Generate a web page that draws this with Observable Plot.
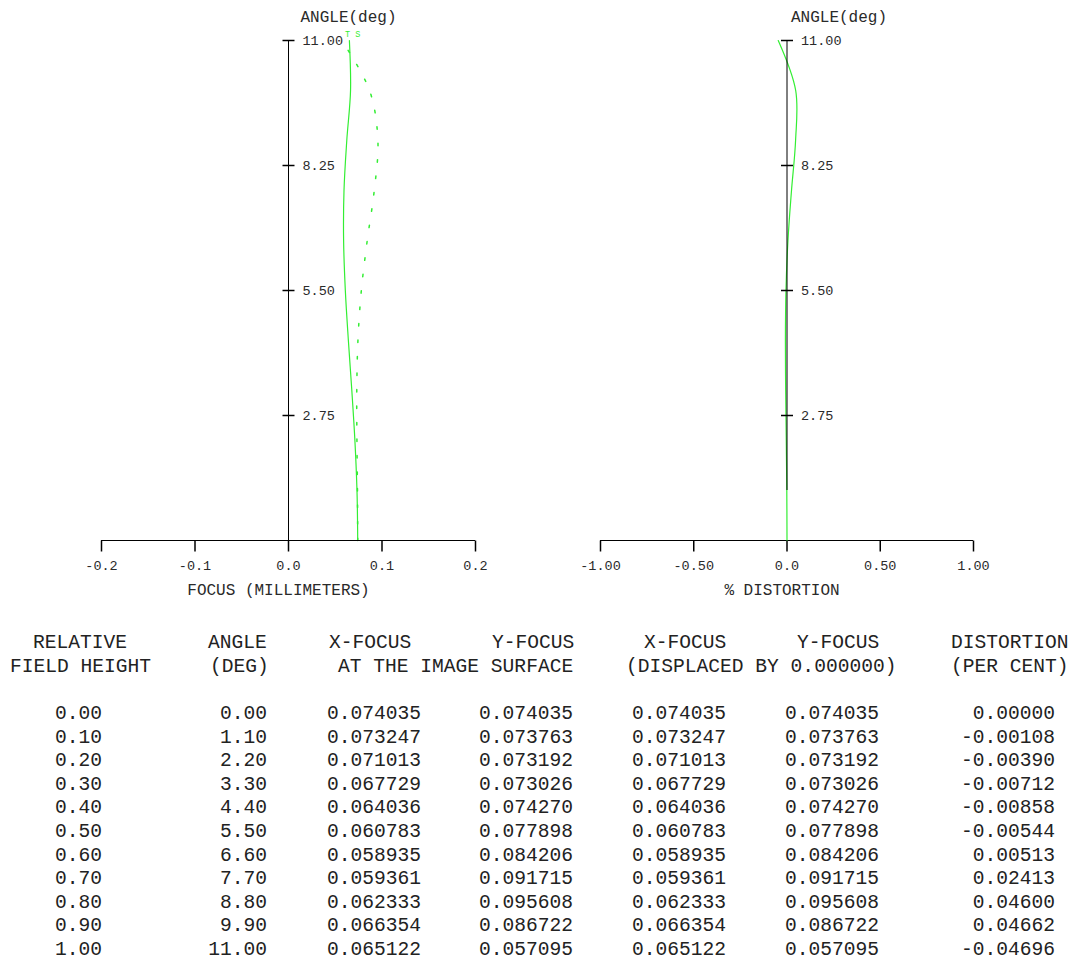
<!DOCTYPE html>
<html><head><meta charset="utf-8">
<script src="https://cdn.jsdelivr.net/npm/d3@7"></script>
<script src="https://cdn.jsdelivr.net/npm/@observablehq/plot@0.6"></script>
<style>
html,body{margin:0;padding:0;background:#fff;}
#wrap{position:relative;width:1073px;height:961px;overflow:hidden;background:#fff;}
#p1{position:absolute;left:0;top:0;}
#p2{position:absolute;left:540px;top:0;}
#tbl{position:absolute;left:0;top:610px;}
svg{display:block;}
</style></head><body>
<div id="wrap"><div id="p1"></div><div id="p2"></div><div id="tbl"></div></div>
<script>
// ---- data (from the printout) ----
const relField   = [0.00, 0.10, 0.20, 0.30, 0.40, 0.50, 0.60, 0.70, 0.80, 0.90, 1.00];
const angles     = [0.00, 1.10, 2.20, 3.30, 4.40, 5.50, 6.60, 7.70, 8.80, 9.90, 11.00];
const xFocus     = [0.074035, 0.073247, 0.071013, 0.067729, 0.064036, 0.060783, 0.058935, 0.059361, 0.062333, 0.066354, 0.065122];
const yFocus     = [0.074035, 0.073763, 0.073192, 0.073026, 0.074270, 0.077898, 0.084206, 0.091715, 0.095608, 0.086722, 0.057095];
const xFocusDisp = [0.074035, 0.073247, 0.071013, 0.067729, 0.064036, 0.060783, 0.058935, 0.059361, 0.062333, 0.066354, 0.065122];
const yFocusDisp = [0.074035, 0.073763, 0.073192, 0.073026, 0.074270, 0.077898, 0.084206, 0.091715, 0.095608, 0.086722, 0.057095];
const distortion = [0.00000, -0.00108, -0.00390, -0.00712, -0.00858, -0.00544, 0.00513, 0.02413, 0.04600, 0.04662, -0.04696];

const focusTicks      = [-0.2, -0.1, 0, 0.1, 0.2];
const focusTickLabels = ["-0.2", "-0.1", "0.0", "0.1", "0.2"];
const distTicks       = [-1, -0.5, 0, 0.5, 1];
const distTickLabels  = ["-1.00", "-0.50", "0.0", "0.50", "1.00"];
const angleTicks      = [2.75, 5.50, 8.25, 11.00];
const angleTickLabels = ["2.75", "5.50", "8.25", "11.00"];
const curveLabels     = ["T", "S"];

const headerRow1 = [["RELATIVE", 33], ["ANGLE", 208], ["X-FOCUS", 329], ["Y-FOCUS", 492], ["X-FOCUS", 644], ["Y-FOCUS", 797], ["DISTORTION", 951]];
const headerRow2 = [["FIELD HEIGHT", 10], ["(DEG)", 210], ["AT THE IMAGE SURFACE", 338], ["(DISPLACED BY 0.000000)", 626], ["(PER CENT)", 951]];

// ---- styles ----
const FONT = "'Liberation Mono', 'DejaVu Sans Mono', monospace";
const GREEN = "#33ee33";
const INK = "#2a2a2a";

const hline = {draw(ctx, size) { const r = Math.sqrt(size / Math.PI); ctx.moveTo(-r, 0); ctx.lineTo(r, 0); }};
const vdown = {draw(ctx, size) { const r = Math.sqrt(size / Math.PI); ctx.moveTo(0, 0); ctx.lineTo(0, r); }};

const rows = angles.map((a, i) => ({a, x: xFocus[i], y: yFocus[i], d: distortion[i]}));
const last = angles.length - 1;
// T sits over the solid (X) curve end, S over the dotted (Y) curve end
const curveLabelX = [xFocus[last] - 0.002, yFocus[last] + 0.017];

const common = {
  height: 610, marginTop: 40, marginBottom: 70,
  y: {domain: [0, 11], axis: null},
  style: {fontFamily: FONT, fontSize: "13px", color: INK, background: "white"}
};

// ---- left plot: field curvature ----
const p1 = Plot.plot({
  ...common,
  width: 540, marginLeft: 101, marginRight: 65,
  x: {domain: [-0.2, 0.2], axis: null},
  marks: [
    Plot.line(rows, {x: "x", y: "a", stroke: GREEN, strokeWidth: 1.2, curve: "catmull-rom"}),
    Plot.line(rows, {x: "y", y: "a", stroke: GREEN, strokeWidth: 1.5, strokeDasharray: "2.5,14", curve: "catmull-rom"}),
    Plot.ruleY([0], {stroke: "#000"}),
    Plot.ruleX([0], {stroke: "#000"}),
    Plot.dot(focusTicks, {x: d => d, frameAnchor: "bottom", symbol: vdown, r: 11, stroke: "#000", fill: "none"}),
    Plot.dot(angleTicks, {x: () => 0, y: d => d, symbol: hline, r: 6, stroke: "#000", fill: "none"}),
    Plot.text(angleTicks, {x: () => 0, y: d => d, text: (d, i) => angleTickLabels[i], textAnchor: "start", dx: 14, fontSize: 13.5}),
    Plot.text(focusTicks, {x: d => d, frameAnchor: "bottom", dy: 29, text: (d, i) => focusTickLabels[i], fontSize: 13.5}),
    Plot.text(["FOCUS (MILLIMETERS)"], {x: () => 0, frameAnchor: "bottom", dy: 54, dx: -10, fontSize: 16}),
    Plot.text(["ANGLE(deg)"], {x: () => 0, frameAnchor: "top", dy: -30, dx: 12, textAnchor: "start", fontSize: 16}),
    Plot.text(curveLabels, {x: (d, i) => curveLabelX[i], frameAnchor: "top", dy: -10, text: d => d, fontSize: 8.5, fill: GREEN})
  ]
});
document.getElementById("p1").appendChild(p1);

// ---- right plot: distortion ----
const p2 = Plot.plot({
  ...common,
  width: 533, marginLeft: 60, marginRight: 100,
  x: {domain: [-1, 1], axis: null},
  marks: [
    Plot.ruleY([0], {stroke: "#000"}),
    Plot.line(rows, {x: "d", y: "a", stroke: GREEN, strokeWidth: 1.2, curve: "catmull-rom"}),
    Plot.ruleX([0], {y1: angles[1], y2: angles[last], stroke: "#000"}),
    Plot.dot(distTicks, {x: d => d, frameAnchor: "bottom", symbol: vdown, r: 11, stroke: "#000", fill: "none"}),
    Plot.dot(angleTicks, {x: () => 0, y: d => d, symbol: hline, r: 6, stroke: "#000", fill: "none"}),
    Plot.text(angleTicks, {x: () => 0, y: d => d, text: (d, i) => angleTickLabels[i], textAnchor: "start", dx: 14, fontSize: 13.5}),
    Plot.text(distTicks, {x: d => d, frameAnchor: "bottom", dy: 29, text: (d, i) => distTickLabels[i], fontSize: 13.5}),
    Plot.text(["% DISTORTION"], {x: () => 0, frameAnchor: "bottom", dy: 54, dx: -5, fontSize: 16}),
    Plot.text(["ANGLE(deg)"], {x: () => 0, frameAnchor: "top", dy: -30, dx: 4, textAnchor: "start", fontSize: 16})
  ]
});
document.getElementById("p2").appendChild(p2);

// ---- table ----
const tsvg = d3.create("svg").attr("width", 1073).attr("height", 351)
  .attr("font-family", FONT).attr("font-size", 19.6).attr("fill", "#222")
  .style("background", "white");
const hdr = (list, yc) => list.forEach(([t, x]) =>
  tsvg.append("text").attr("x", x).attr("y", yc).attr("dominant-baseline", "central")
    .style("white-space", "pre").text(t));
hdr(headerRow1, 33);
hdr(headerRow2, 57);
const colRight = [102, 267, 421, 573, 726, 879, 1055];
const cols = [
  relField.map(v => v.toFixed(2)),
  angles.map(v => v.toFixed(2)),
  xFocus.map(v => v.toFixed(6)),
  yFocus.map(v => v.toFixed(6)),
  xFocusDisp.map(v => v.toFixed(6)),
  yFocusDisp.map(v => v.toFixed(6)),
  distortion.map(v => v.toFixed(5))
];
cols.forEach((col, c) => col.forEach((t, r) => {
  tsvg.append("text").attr("x", colRight[c]).attr("y", 104 + r * 23.6)
    .attr("text-anchor", "end").attr("dominant-baseline", "central").text(t);
}));
document.getElementById("tbl").appendChild(tsvg.node());
</script>
</body></html>
